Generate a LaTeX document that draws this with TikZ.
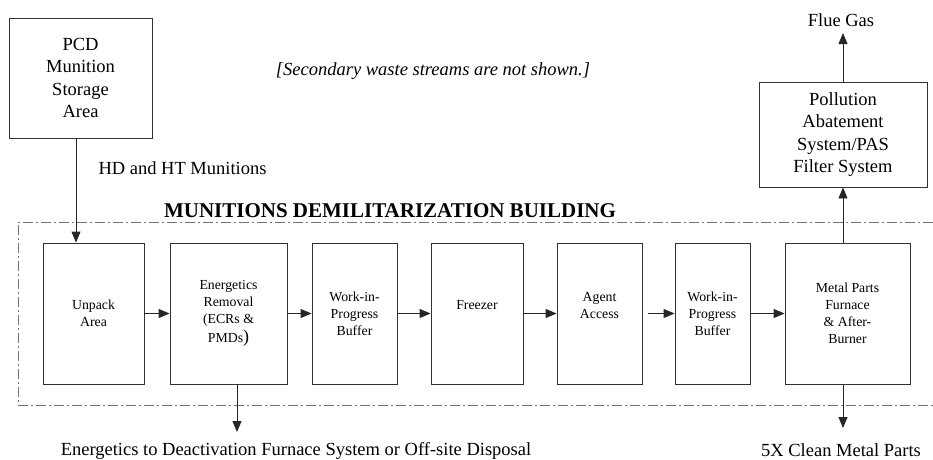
\documentclass[tikz,border=0pt]{standalone}
\usepackage{fontspec}
\setmainfont{Liberation Serif}
\usetikzlibrary{arrows.meta}
\tikzset{
  box/.style={draw=black!80, line width=0.9pt, inner sep=0pt, align=center},
  small/.style={font=\fontsize{13.8}{17}\selectfont},
  big/.style={font=\fontsize{18.5}{22.5}\selectfont},
  arr/.style={draw=black!85, line width=0.9pt, -{Triangle[length=11pt,width=9pt]}},
  bnd/.style={draw=black!55, line width=0.8pt, dash pattern=on 10pt off 3pt on 2pt off 3pt},
}
\begin{document}
\begin{tikzpicture}[x=1pt,y=-1pt]
\useasboundingbox (0,0) rectangle (933,459);
% building boundary
\draw[bnd] (933,222) -- (18,222) -- (18,405) -- (933,405);
\node[anchor=base, font=\fontsize{21}{24}\selectfont\bfseries] (title) at (390,217) {MUNITIONS DEMILITARIZATION BUILDING};
\node[anchor=base, big, font=\fontsize{18.5}{22}\selectfont\itshape] (note) at (433,75) {[Secondary waste streams are not shown.]};
% boxes
\node[box, big, minimum width=143pt, minimum height=120pt] (pcd) at (80.5,78) {PCD\\Munition\\Storage\\Area};
\node[box, big, minimum width=168pt, minimum height=105pt] (pas) at (843,134.5) {Pollution\\Abatement\\System/PAS\\Filter System};
\node[box, small, minimum width=101pt, minimum height=141pt] (un) at (93.5,313.5) {Unpack\\Area};
\node[box, small, minimum width=117pt, minimum height=141pt] (en) at (228.5,313.5) {Energetics\\Removal\\(ECRs \&\\[2pt]PMDs{\fontsize{18}{18}\selectfont)}};
\node[box, small, minimum width=85pt, minimum height=141pt] (wa) at (354.5,313.5) {Work-in-\\Progress\\Buffer};
\node[box, small, minimum width=92pt, minimum height=141pt] (fr) at (477,313.5) {Freezer\\~};
\node[box, small, minimum width=85pt, minimum height=141pt] (ag) at (599.5,313.5) {Agent\\Access\\~};
\node[box, small, minimum width=75pt, minimum height=141pt] (wb) at (712.5,313.5) {Work-in-\\Progress\\Buffer};
\node[box, small, minimum width=125pt, minimum height=141pt] (mp) at (847.5,313.5) {Metal Parts\\Furnace\\\& After-\\Burner};
% texts
\node[anchor=base west, big] (hd) at (95,174) {HD and HT Munitions};
\node[anchor=base, big] (flue) at (841,26) {Flue Gas};
\node[anchor=base, big] (clean) at (841,456) {5X Clean Metal Parts};
\node[anchor=base, big] (ener) at (296,455) {Energetics to Deactivation Furnace System or Off-site Disposal};
\coordinate (flueend) at (843,33);
\coordinate (cleanend) at (843,428);
\coordinate (enend) at (237,432);
% connectors
\draw[arr] ([xshift=-4.5pt]pcd.south) -- ([xshift=-4.5pt]pcd.south |- un.north);
\draw[arr] (un.east) -- (en.west);
\draw[arr] (en.east) -- (wa.west);
\draw[arr] (wa.east) -- (fr.west);
\draw[arr] (fr.east) -- (ag.west);
\draw[arr, shorten <=6pt] (ag.east) -- (wb.west);
\draw[arr] (wb.east) -- (mp.west);
\draw[arr] ([xshift=8.5pt]en.south) -- (enend);
\draw[arr] (mp.north -| pas.south) -- (pas.south);
\draw[arr] (pas.north) -- (flueend);
\draw[arr] (mp.south -| pas.south) -- (cleanend);
\end{tikzpicture}
\end{document}
